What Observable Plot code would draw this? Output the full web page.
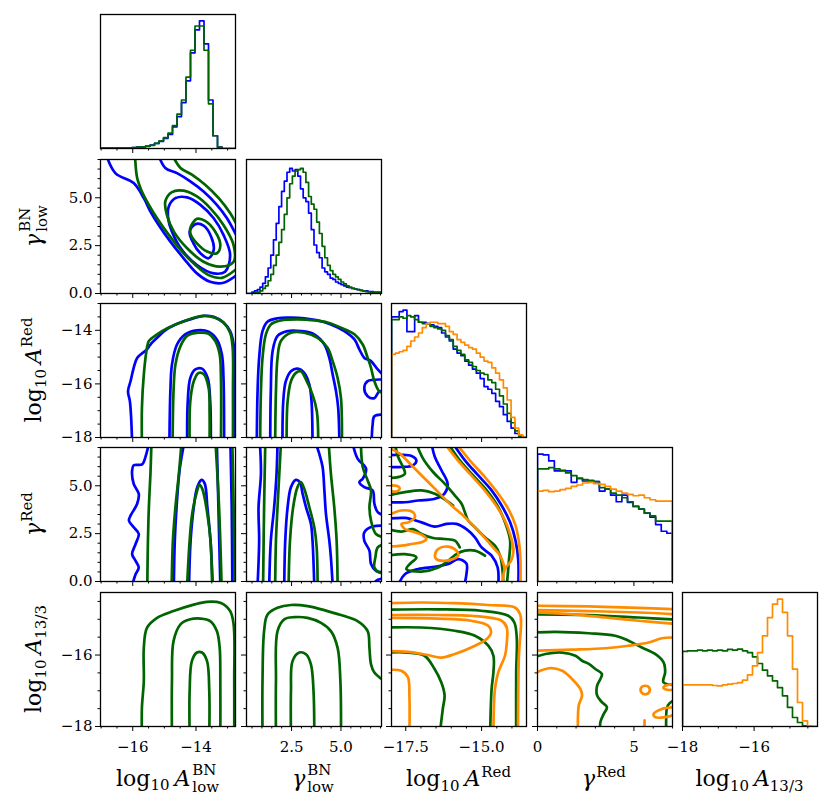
<!DOCTYPE html>
<html><head><meta charset="utf-8">
<script src="https://cdn.jsdelivr.net/npm/d3@7"></script>
<script src="https://cdn.jsdelivr.net/npm/@observablehq/plot@0.6"></script>
<style>
body{margin:0;background:#fff}
#fig{position:relative;width:831px;height:809px;background:#fff;font-family:"DejaVu Serif",serif;color:#000;overflow:hidden}
#fig svg{position:absolute}
#fig svg text{font-family:"DejaVu Serif",serif !important}
.lab{position:absolute;font-size:22px;line-height:1;white-space:nowrap;transform:translate(-50%,-50%)}
.lab.rot{transform:translate(-50%,-50%) rotate(-90deg)}
.lab sub,.lab sup{font-size:0.68em;line-height:0;position:relative;vertical-align:baseline}
.lab sub{top:0.32em}
.lab sup{top:-0.62em;margin-left:1px}
.lab .sp{display:inline-block;width:5px}
.ss{display:inline-block;vertical-align:-0.42em;font-size:0.68em;line-height:1.12;margin-left:2px}
.ss span{display:block}
</style></head>
<body><div id="fig"></div>
<script>
// ---------- colours ----------
const COL = {b: "#0000ff", g: "#006400", o: "#ff8c00"};

// ---------- axes ----------
const xDomains = [[-17.02, -12.75], [0.22, 7.05], [-17.97, -13.52], [0, 7], [-18, -14.23]];
const yDomains = [null, [0, 7], [-18, -13], [0, 7], [-18, -14.25]];
const xMajor = [[-16, -14], [2.5, 5], [-17.5, -15], [0, 5], [-18, -16]];
const xMajorLabels = [["−16", "−14"], ["2.5", "5.0"], ["−17.5", "−15.0"], ["0", "5"], ["−18", "−16"]];
const xMinor = [[-17, -16.5, -15.5, -15, -14.5, -13.5, -13], [0.5, 1, 1.5, 2, 3, 3.5, 4, 4.5, 5.5, 6, 6.5, 7],
  [-17, -16.5, -16, -15.5, -14.5, -14], [1, 2, 3, 4, 6, 7], [-17.5, -17, -16.5, -15.5, -15, -14.5]];
const yMajor = [null, [0, 2.5, 5], [-18, -16, -14], [0, 2.5, 5], [-18, -16]];
const yMajorLabels = [null, ["0.0", "2.5", "5.0"], ["−18", "−16", "−14"], ["0.0", "2.5", "5.0"], ["−18", "−16"]];
const yMinor = [null, [0.5, 1, 1.5, 2, 3, 3.5, 4, 4.5, 5.5, 6, 6.5, 7], [-17.5, -17, -16.5, -15.5, -15, -14.5, -13.5, -13],
  [0.5, 1, 1.5, 2, 3, 3.5, 4, 4.5, 5.5, 6, 6.5, 7], [-17.5, -17, -16.5, -15.5, -15, -14.5]];

const axisLabels = [
  'log<sub>10</sub><span class="sp"></span><i>A</i><span class="ss"><span>BN</span><span>low</span></span>',
  '<i>γ</i><span class="ss"><span>BN</span><span>low</span></span>',
  'log<sub>10</sub><span class="sp"></span><i>A</i><sup>Red</sup>',
  '<i>γ</i><sup>Red</sup>',
  'log<sub>10</sub><span class="sp"></span><i>A</i><sub>13/3</sub>'
];

// ---------- 1D histograms (normalised heights per bin) ----------
const hist0_blue = [0.003,0.003,0.003,0.003,0.003,0.004,0.005,0.007,0.01,0.013,0.018,0.026,0.04,0.055,0.08,0.11,0.17,0.25,0.36,0.53,0.75,0.93,1.0,0.82,0.38,0.1,0.01,0,0,0];
const hist0_green = [0.003,0.003,0.003,0.003,0.003,0.003,0.005,0.007,0.01,0.012,0.017,0.025,0.04,0.06,0.085,0.12,0.18,0.27,0.38,0.56,0.77,0.96,0.96,0.77,0.35,0.1,0.01,0,0,0];

const hist1_blue = [0,0,0.01,0.02,0.03,0.05,0.08,0.13,0.2,0.3,0.42,0.55,0.68,0.8,0.88,0.95,0.98,0.96,0.97,0.92,0.82,0.75,0.72,0.63,0.5,0.38,0.32,0.28,0.2,0.17,0.15,0.12,0.11,0.09,0.08,0.07,0.06,0.05,0.045,0.04,0.035,0.03,0.025,0.02,0.02,0.015,0.015,0.01,0.01,0.01];
const hist1_green = [0,0,0,0.005,0.01,0.02,0.04,0.06,0.1,0.15,0.22,0.3,0.4,0.5,0.62,0.75,0.86,0.92,0.96,0.97,0.98,0.95,0.87,0.76,0.7,0.66,0.56,0.47,0.37,0.28,0.22,0.18,0.15,0.13,0.11,0.09,0.075,0.06,0.05,0.04,0.035,0.03,0.025,0.02,0.015,0.012,0.01,0.008,0.006,0.005];

const hist2_blue = [0.9,0.9,0.94,0.95,0.79,0.79,0.91,0.86,0.86,0.85,0.84,0.83,0.82,0.78,0.75,0.72,0.66,0.63,0.61,0.57,0.54,0.51,0.48,0.44,0.38,0.36,0.33,0.27,0.23,0.17,0.12,0.07,0.03,0.01,0];
const hist2_green = [0.88,0.88,0.9,0.89,0.91,0.9,0.88,0.86,0.85,0.85,0.83,0.82,0.81,0.8,0.76,0.73,0.68,0.65,0.62,0.58,0.56,0.53,0.5,0.48,0.47,0.43,0.41,0.36,0.31,0.25,0.18,0.11,0.05,0.01,0];
const hist2_orange = [0.62,0.63,0.64,0.65,0.68,0.72,0.75,0.78,0.82,0.85,0.86,0.86,0.85,0.85,0.83,0.79,0.77,0.73,0.71,0.69,0.67,0.66,0.63,0.6,0.57,0.56,0.52,0.48,0.43,0.37,0.28,0.15,0.07,0.02,0];

const hist3_blue = [0.95,0.945,0.9,0.825,0.83,0.825,0.74,0.77,0.75,0.75,0.745,0.675,0.69,0.645,0.595,0.645,0.59,0.56,0.54,0.51,0.48,0.425,0.375,0.36];
const hist3_green = [0.84,0.84,0.85,0.84,0.825,0.81,0.79,0.77,0.76,0.755,0.745,0.7,0.69,0.66,0.645,0.625,0.595,0.56,0.54,0.51,0.49,0.45,0.45,0.45];
const hist3_orange = [0.675,0.68,0.67,0.675,0.685,0.695,0.71,0.72,0.735,0.74,0.73,0.725,0.71,0.69,0.675,0.66,0.65,0.64,0.645,0.625,0.61,0.6,0.6,0.6];

const hist4_green = [0.56,0.565,0.565,0.57,0.565,0.57,0.565,0.57,0.565,0.575,0.57,0.577,0.565,0.552,0.52,0.47,0.42,0.378,0.34,0.29,0.229,0.142,0.067,0.03,0.005,0,0];
const hist4_orange = [0.311,0.311,0.311,0.311,0.311,0.311,0.306,0.303,0.311,0.316,0.321,0.328,0.346,0.386,0.453,0.552,0.677,0.813,0.913,0.95,0.851,0.677,0.428,0.179,0.042,0.005,0];

// ---------- 2D contour lines (data coordinates) ----------
const cont_1_0 = [
  {s:"b", p:[[-16.85,7.3],[-16.55,6.29],[-15.97,5.77],[-15.65,4.98],[-15.44,4.28],[-15.18,3.58],[-14.81,2.71],[-14.39,1.84],[-13.97,1.05],[-13.55,0.61],[-13.13,0.56],[-12.6,1.1]]},
  {s:"b", p:[[-15.2,7.3],[-14.97,6.56],[-14.6,6.29],[-14.18,5.86],[-13.76,5.33],[-13.34,4.63],[-13.02,3.93],[-12.65,2.8]]},
  {s:"b", closed:true, p:[[-14.86,4.55],[-14.65,4.98],[-14.28,5.02],[-13.86,4.63],[-13.44,3.93],[-13.13,3.06],[-12.92,2.01],[-13.08,1.14],[-13.44,1.05],[-13.97,1.49],[-14.44,2.27],[-14.76,3.23],[-14.88,3.93]]},
  {s:"b", closed:true, p:[[-14.2,3.23],[-14.02,3.62],[-13.76,3.55],[-13.52,2.97],[-13.44,2.27],[-13.6,1.84],[-13.86,2.1],[-14.08,2.62]]},
  {s:"g", p:[[-15.93,7.3],[-15.86,6.03],[-15.71,5.33],[-15.49,4.63],[-15.23,3.93],[-14.86,3.06],[-14.44,2.19],[-14.02,1.49],[-13.6,0.96],[-13.18,0.82],[-12.6,1.45]]},
  {s:"g", p:[[-14.77,7.3],[-14.49,6.56],[-14.13,6.21],[-13.71,5.68],[-13.28,4.98],[-12.92,4.2],[-12.65,3.4]]},
  {s:"g", closed:true, p:[[-14.97,4.81],[-14.76,5.3],[-14.39,5.37],[-13.97,5.07],[-13.55,4.46],[-13.13,3.58],[-12.81,2.53],[-12.81,1.66],[-13.23,1.4],[-13.76,1.66],[-14.28,2.36],[-14.7,3.23],[-14.92,4.11]]},
  {s:"g", closed:true, p:[[-14.18,3.41],[-13.97,3.9],[-13.71,3.79],[-13.39,3.23],[-13.23,2.53],[-13.34,2.1],[-13.65,2.19],[-13.97,2.62],[-14.16,3.06]]}
];

const cont_2_0 = [
  {s:"b", p:[[-16.02,-18.2],[-16.05,-17.28],[-16.09,-16.65],[-16.15,-16.28],[-16.07,-15.9],[-15.97,-15.4],[-15.86,-15.03],[-15.55,-14.71],[-15.44,-14.53],[-15.23,-14.28],[-14.92,-13.96],[-14.49,-13.71],[-14.07,-13.55],[-13.76,-13.46],[-13.44,-13.5],[-13.13,-13.71],[-12.92,-14.03],[-12.81,-14.53],[-12.79,-16.28],[-12.78,-18.2]]},
  {s:"b", p:[[-14.84,-18.2],[-14.81,-16.28],[-14.76,-15.28],[-14.6,-14.53],[-14.34,-14.15],[-13.97,-14.0],[-13.6,-14.05],[-13.34,-14.34],[-13.18,-14.9],[-13.13,-15.78],[-13.11,-18.2]]},
  {s:"b", p:[[-14.28,-18.2],[-14.26,-16.65],[-14.18,-15.78],[-14.02,-15.46],[-13.81,-15.43],[-13.63,-15.78],[-13.55,-16.65],[-13.53,-18.2]]},
  {s:"g", p:[[-15.71,-18.2],[-15.71,-16.9],[-15.65,-15.65],[-15.55,-14.65],[-15.49,-14.4],[-15.23,-14.15],[-14.92,-13.93],[-14.49,-13.71],[-14.07,-13.53],[-13.76,-13.46],[-13.39,-13.53],[-13.13,-13.71],[-12.92,-14.09],[-12.84,-14.65],[-12.83,-16.28],[-12.83,-18.2]]},
  {s:"g", p:[[-14.74,-18.2],[-14.71,-16.28],[-14.65,-15.28],[-14.49,-14.59],[-14.28,-14.21],[-13.92,-14.09],[-13.6,-14.13],[-13.39,-14.4],[-13.25,-14.9],[-13.21,-15.78],[-13.21,-18.2]]},
  {s:"g", p:[[-14.2,-18.2],[-14.18,-16.65],[-14.07,-15.9],[-13.92,-15.59],[-13.76,-15.63],[-13.6,-16.15],[-13.57,-17.03],[-13.57,-18.2]]}
];

const cont_2_1 = [
  {s:"b", p:[[0.74,-18.2],[0.78,-16.28],[0.86,-15.03],[1.03,-14.03],[1.28,-13.68],[1.79,-13.55],[2.47,-13.53],[3.14,-13.55],[3.82,-13.63],[4.49,-13.78],[5.17,-14.03],[5.68,-14.34],[5.93,-14.71],[6.18,-15.03],[6.52,-15.15],[6.86,-15.46],[7.2,-15.71]]},
  {s:"b", p:[[7.2,-15.84],[6.35,-15.9],[6.18,-16.15],[6.35,-16.46],[6.69,-16.53],[6.94,-16.28],[7.2,-16.28]]},
  {s:"b", p:[[7.2,-17.15],[6.69,-17.21],[6.6,-17.53],[6.55,-18.2]]},
  {s:"b", p:[[1.42,-18.2],[1.45,-16.28],[1.54,-14.78],[1.79,-14.21],[2.3,-14.03],[2.97,-14.03],[3.65,-14.15],[4.16,-14.53],[4.41,-15.03],[4.58,-15.65],[4.75,-16.28],[4.86,-16.9],[4.92,-18.2]]},
  {s:"b", p:[[2.04,-18.2],[2.08,-16.65],[2.21,-15.9],[2.47,-15.53],[2.8,-15.43],[3.14,-15.59],[3.4,-16.03],[3.51,-16.65],[3.56,-18.2]]},
  {s:"g", p:[[0.91,-18.2],[0.95,-16.28],[1.03,-15.03],[1.2,-14.15],[1.45,-13.78],[1.96,-13.63],[2.8,-13.59],[3.65,-13.63],[4.32,-13.71],[5.0,-13.9],[5.68,-14.15],[6.1,-14.53],[6.35,-15.03],[6.52,-15.4],[6.69,-15.9],[6.94,-16.28],[7.2,-16.34]]},
  {s:"g", p:[[1.67,-18.2],[1.71,-16.28],[1.79,-15.03],[1.96,-14.4],[2.47,-14.09],[3.14,-14.09],[3.82,-14.28],[4.32,-14.65],[4.58,-15.15],[4.83,-15.78],[5.0,-16.53],[5.05,-18.2]]},
  {s:"g", p:[[2.25,-18.2],[2.3,-16.65],[2.47,-15.9],[2.72,-15.59],[2.97,-15.53],[3.23,-15.84],[3.56,-16.4],[3.78,-17.03],[3.85,-18.2]]}
];

const cont_3_0 = [
  {s:"b", p:[[-15.49,7.2],[-15.6,6.5],[-15.7,6.12],[-15.97,6.07],[-16.02,5.8],[-15.97,5.1],[-15.81,4.58],[-15.86,4.06],[-16.07,3.44],[-16.12,3.18],[-15.97,2.83],[-15.81,2.48],[-15.91,1.96],[-16.02,1.43],[-15.91,1.08],[-15.81,0.73],[-15.91,0.38],[-16.02,-0.2]]},
  {s:"b", p:[[-14.38,7.2],[-14.52,5.8],[-14.6,4.23],[-14.67,2.13],[-14.7,-0.2]]},
  {s:"b", p:[[-14.22,-0.2],[-14.17,2.13],[-14.07,3.88],[-13.96,4.93],[-13.82,5.31],[-13.72,5.1],[-13.64,3.88],[-13.54,2.13],[-13.47,-0.2]]},
  {s:"b", p:[[-13.34,7.2],[-13.29,3.88],[-13.23,-0.2]]},
  {s:"b", p:[[-12.91,7.2],[-12.87,3.88],[-12.85,-0.2]]},
  {s:"g", p:[[-15.41,7.2],[-15.44,5.63],[-15.49,3.88],[-15.52,2.13],[-15.54,-0.2]]},
  {s:"g", p:[[-14.46,7.2],[-14.54,5.63],[-14.65,3.88],[-14.73,2.13],[-14.77,-0.2]]},
  {s:"g", p:[[-14.28,-0.2],[-14.2,2.13],[-14.12,3.53],[-13.96,4.76],[-13.89,5.05],[-13.8,4.84],[-13.64,3.53],[-13.54,2.13],[-13.49,-0.2]]},
  {s:"g", p:[[-13.38,7.2],[-13.27,3.88],[-13.19,-0.2]]},
  {s:"g", p:[[-12.85,7.2],[-12.81,3.88],[-12.78,-0.2]]}
];

const cont_3_1 = [
  {s:"b", p:[[0.9,7.2],[0.95,5.63],[0.83,3.88],[0.86,2.13],[0.78,-0.2]]},
  {s:"b", p:[[1.79,7.2],[1.74,5.63],[1.62,3.88],[1.45,2.13],[1.37,-0.2]]},
  {s:"b", p:[[2.13,-0.2],[2.18,2.13],[2.3,3.88],[2.47,4.93],[2.72,5.31],[2.92,5.19],[3.06,4.58],[3.23,3.88],[3.48,3.01],[3.56,2.13],[3.65,-0.2]]},
  {s:"b", p:[[3.73,7.2],[3.9,6.68],[4.07,5.98],[4.16,4.76],[4.24,3.53],[4.41,2.13],[4.49,1.26],[4.58,-0.2]]},
  {s:"b", p:[[5.59,7.2],[5.84,6.42],[6.27,5.89],[6.1,5.37],[5.93,5.19],[6.18,4.93],[6.6,4.76],[6.69,4.06],[6.86,3.62],[7.2,3.44]]},
  {s:"b", p:[[7.2,2.92],[6.6,2.87],[6.18,2.57],[6.18,2.13],[6.44,1.61],[6.52,0.91],[6.77,0.56],[7.2,0.47]]},
  {s:"b", p:[[7.2,0.17],[6.77,0.03],[6.69,-0.2]]},
  {s:"g", p:[[1.17,7.2],[1.11,3.88],[1.06,-0.2]]},
  {s:"g", p:[[1.96,7.2],[1.88,5.63],[1.79,3.88],[1.71,2.13],[1.67,-0.2]]},
  {s:"g", p:[[2.35,-0.2],[2.42,2.13],[2.58,3.88],[2.8,4.93],[2.97,5.19],[3.14,4.84],[3.4,3.88],[3.65,2.83],[3.77,1.78],[3.82,-0.2]]},
  {s:"g", p:[[4.38,7.2],[4.49,5.63],[4.66,3.88],[4.78,2.13],[4.83,-0.2]]},
  {s:"g", p:[[6.01,7.2],[6.1,5.98],[6.35,5.28],[6.52,4.76],[6.44,3.88],[6.52,3.18],[6.77,2.48],[7.2,2.31]]},
  {s:"g", p:[[7.2,1.96],[6.86,1.78],[6.74,1.26],[6.69,0.73],[6.94,0.47],[7.2,0.47]]}
];

const cont_3_2 = [
  {s:"b", p:[[-15.94,7.2],[-15.55,6.33],[-15.11,5.54],[-14.67,4.76],[-14.34,3.97],[-14.06,3.09],[-13.88,2.13],[-13.79,1.08],[-13.79,-0.2]]},
  {s:"b", p:[[-16.65,7.2],[-16.54,6.5],[-16.32,5.8],[-16.12,5.1],[-16.23,4.58],[-16.54,4.32],[-17.09,4.23],[-17.53,4.14],[-18.1,4.14]]},
  {s:"b", p:[[-18.1,6.59],[-17.64,6.62],[-17.31,6.56],[-17.15,6.33],[-17.26,6.07],[-17.64,5.98],[-18.1,5.98]]},
  {s:"b", p:[[-18.1,3.27],[-17.53,3.32],[-16.98,3.09],[-16.54,2.87],[-16.16,3.01],[-15.83,3.01],[-15.5,2.74],[-15.22,2.31],[-15.0,1.78],[-14.67,1.35],[-14.47,0.73],[-14.45,-0.2]]},
  {s:"b", p:[[-17.75,-0.2],[-17.53,0.38],[-17.09,0.65],[-16.54,0.77],[-16.1,0.91],[-15.77,1.17],[-15.5,0.94],[-15.5,0.38],[-15.57,-0.2]]},
  {s:"g", p:[[-16.1,7.2],[-15.72,6.33],[-15.28,5.54],[-14.83,4.76],[-14.45,3.88],[-14.21,3.01],[-14.06,2.13],[-14.1,1.08],[-14.17,-0.2]]},
  {s:"g", p:[[-17.15,7.2],[-16.93,6.42],[-16.6,5.72],[-16.21,5.1],[-15.88,4.49],[-15.66,4.06],[-15.55,3.62],[-15.44,3.18],[-15.22,2.83],[-14.89,2.31],[-14.56,1.87],[-14.39,1.35],[-14.32,0.73],[-14.28,-0.2]]},
  {s:"g", p:[[-17.86,7.2],[-17.75,6.5],[-17.59,5.98],[-17.53,5.63],[-17.75,5.45],[-18.1,5.42]]},
  {s:"g", p:[[-18.1,4.49],[-17.53,4.67],[-16.98,4.76],[-16.54,4.58],[-16.16,4.23],[-15.94,3.97]]},
  {s:"g", p:[[-18.1,2.74],[-17.64,2.61],[-17.26,2.74],[-16.98,2.48],[-16.6,2.27],[-16.21,2.22],[-15.88,2.13],[-15.72,1.78]]},
  {s:"g", p:[[-18.1,1.35],[-17.53,1.43],[-17.15,1.26],[-17.37,0.91],[-17.48,0.65],[-16.98,0.52],[-16.43,0.73],[-16.1,1.08],[-15.83,1.43],[-15.55,1.61],[-15.22,1.61],[-14.89,1.35]]},
  {s:"o", p:[[-15.83,7.2],[-15.39,6.33],[-14.89,5.45],[-14.45,4.58],[-14.12,3.79],[-13.88,2.92],[-13.76,1.96],[-13.72,1.08],[-13.72,-0.2]]},
  {s:"o", p:[[-16.21,7.2],[-15.83,6.42],[-15.39,5.63],[-14.94,4.84],[-14.56,4.06],[-14.23,3.18],[-14.03,2.31],[-13.95,1.61],[-14.03,1.08],[-14.23,0.65],[-14.32,-0.2]]},
  {s:"o", p:[[-18.0,6.94],[-17.7,6.68],[-17.31,6.07],[-16.87,5.37],[-16.43,4.67],[-15.99,3.97],[-15.55,3.36],[-15.11,2.66],[-14.67,1.87],[-14.39,1.35],[-14.23,0.65]]},
  {s:"o", p:[[-18.1,5.02],[-17.75,4.97],[-17.7,4.84],[-17.78,4.72],[-18.1,4.72]]},
  {s:"o", p:[[-18.1,3.44],[-17.64,3.71],[-17.26,3.62],[-17.2,3.36],[-17.42,3.09],[-17.64,3.01],[-17.53,2.74],[-17.2,2.57],[-16.93,2.4],[-16.82,2.22],[-16.98,2.05],[-17.31,1.96],[-17.64,1.87],[-18.1,1.82]]},
  {s:"o", closed:true, p:[[-16.54,1.35],[-16.43,1.7],[-16.1,1.82],[-15.83,1.61],[-15.77,1.35],[-15.94,1.17],[-16.27,1.08],[-16.49,1.17]]}
];

const cont_4_0 = [
  {s:"g", p:[[-15.71,-18.3],[-15.71,-17.47],[-15.65,-16.73],[-15.65,-15.8],[-15.55,-15.24],[-15.23,-14.96],[-14.71,-14.77],[-14.07,-14.59],[-13.65,-14.51],[-13.23,-14.54],[-12.92,-14.77],[-12.81,-15.14],[-12.79,-16.73],[-12.79,-18.3]]},
  {s:"g", p:[[-14.76,-18.3],[-14.76,-16.73],[-14.71,-15.61],[-14.49,-15.14],[-14.18,-15.0],[-13.86,-14.98],[-13.55,-15.05],[-13.34,-15.33],[-13.25,-15.8],[-13.23,-16.73],[-13.23,-18.3]]},
  {s:"g", p:[[-14.2,-18.3],[-14.2,-17.0],[-14.13,-16.17],[-13.97,-15.93],[-13.81,-15.93],[-13.65,-16.17],[-13.58,-17.0],[-13.58,-18.3]]}
];

const cont_4_1 = [
  {s:"g", p:[[1.03,-18.3],[1.03,-16.73],[1.11,-15.33],[1.28,-14.87],[1.79,-14.68],[2.47,-14.6],[3.31,-14.63],[4.32,-14.77],[5.17,-14.91],[5.84,-15.05],[6.35,-15.33],[6.44,-15.8],[6.52,-16.26],[6.69,-16.49],[7.2,-16.73]]},
  {s:"g", p:[[1.71,-18.3],[1.71,-16.73],[1.79,-15.33],[2.13,-15.0],[2.64,-14.94],[3.31,-14.96],[3.99,-15.1],[4.49,-15.33],[4.83,-15.8],[4.97,-16.73],[5.0,-18.3]]},
  {s:"g", p:[[2.47,-18.3],[2.47,-17.0],[2.55,-16.17],[2.89,-15.93],[3.23,-15.98],[3.48,-16.26],[3.61,-17.0],[3.65,-18.3]]}
];

const cont_4_2 = [
  {s:"g", p:[[-18.1,-14.73],[-16.44,-14.72],[-15.01,-14.76],[-14.12,-14.9],[-13.92,-15.09],[-13.84,-15.55],[-13.86,-16.48],[-13.86,-18.3]]},
  {s:"g", p:[[-18.1,-15.23],[-16.99,-15.23],[-15.88,-15.32],[-15.22,-15.46],[-14.78,-15.74],[-14.61,-16.02],[-14.61,-16.48],[-14.67,-16.95],[-14.72,-18.3]]},
  {s:"g", p:[[-18.1,-15.93],[-17.43,-15.93],[-16.88,-16.02],[-16.55,-16.39],[-16.33,-16.76],[-16.22,-17.13],[-16.28,-17.51],[-16.39,-18.3]]},
  {s:"o", p:[[-18.1,-14.55],[-16.99,-14.53],[-15.88,-14.55],[-14.79,-14.6],[-13.9,-14.67],[-13.73,-14.86],[-13.7,-15.09],[-13.77,-16.02],[-13.8,-18.3]]},
  {s:"o", p:[[-18.1,-14.88],[-16.44,-14.88],[-15.34,-14.9],[-14.34,-15.04],[-14.17,-15.23],[-14.17,-15.65],[-14.23,-16.02],[-14.45,-16.48],[-14.56,-16.95],[-14.61,-18.3]]},
  {s:"o", p:[[-18.1,-14.96],[-16.44,-14.98],[-15.34,-15.04],[-14.78,-15.18],[-14.69,-15.37],[-14.83,-15.55],[-15.27,-15.76],[-15.88,-15.97],[-16.33,-16.07],[-16.77,-16.0],[-17.43,-15.91],[-18.1,-15.89]]},
  {s:"o", p:[[-18.1,-16.42],[-17.65,-16.44],[-17.43,-16.62],[-17.38,-17.13],[-17.38,-18.3]]}
];

const cont_4_3 = [
  {s:"g", p:[[-0.2,-14.86],[2.66,-14.88],[5.24,-14.95],[7.2,-15.01]]},
  {s:"g", p:[[-0.2,-15.37],[0.93,-15.35],[2.66,-15.39],[4.03,-15.46],[4.72,-15.6],[5.41,-15.79],[6.1,-15.97],[6.53,-16.2],[6.62,-16.48],[6.53,-16.76],[7.2,-16.84]]},
  {s:"g", p:[[7.2,-17.23],[6.76,-17.41],[6.67,-17.88],[6.71,-18.3]]},
  {s:"g", p:[[-0.2,-16.07],[0.41,-15.97],[1.28,-15.93],[1.97,-16.02],[2.31,-16.16],[2.66,-16.25],[3.0,-16.39],[3.34,-16.53],[3.26,-16.67],[3.09,-16.86],[3.09,-17.13],[3.34,-17.32],[3.6,-17.46],[3.43,-17.65],[3.26,-17.88],[3.26,-18.3]]},
  {s:"o", p:[[-0.2,-14.62],[2.66,-14.64],[5.24,-14.68],[7.2,-14.72]]},
  {s:"o", p:[[-0.2,-14.74],[2.66,-14.77],[5.24,-14.81],[7.2,-14.86]]},
  {s:"o", p:[[-0.2,-14.8],[1.79,-14.86],[3.52,-14.95],[5.24,-15.04],[7.2,-15.13]]},
  {s:"o", p:[[-0.2,-15.88],[1.79,-15.85],[3.52,-15.81],[4.72,-15.74],[5.76,-15.65],[6.45,-15.53],[7.2,-15.51]]},
  {s:"o", p:[[-0.2,-16.53],[0.59,-16.37],[1.28,-16.44],[1.79,-16.67],[2.22,-16.95],[2.31,-17.13],[2.14,-17.41],[2.1,-18.3]]},
  {s:"o", closed:true, p:[[5.59,-16.86],[5.79,-16.91],[5.79,-17.04],[5.59,-17.1],[5.38,-17.04],[5.38,-16.91]]},
  {s:"o", p:[[7.2,-16.81],[6.62,-16.86],[6.53,-16.92],[6.71,-16.97],[7.2,-16.97]]},
  {s:"o", p:[[7.2,-17.46],[6.45,-17.51],[6.02,-17.65],[6.1,-17.74],[6.62,-17.74],[7.2,-17.65]]},
  {s:"o", p:[[5.55,-17.83],[5.55,-18.3]]}
];

// ---------- layout ----------
const colLeft = [100, 245.5, 391, 536.5, 682];
const rowTop = [14, 158.5, 302.7, 447, 591.7];
const PW = 135, PH = 134;
const ML = 62, MR = 4, MT = 4, MB = 36;
const FONT = "DejaVu Serif";

const fig = document.getElementById("fig");

function stepRows(dom, h) {
  const n = h.length, w = (dom[1] - dom[0]) / n;
  const rows = [{x: dom[0], y: 0}];
  h.forEach((v, i) => { rows.push({x: dom[0] + i * w, y: v}, {x: dom[0] + (i + 1) * w, y: v}); });
  rows.push({x: dom[1], y: 0});
  return rows;
}
function histMarks(dom, list) {
  return list.map(([h, s]) => Plot.line(stepRows(dom, h), {x: "x", y: "y", stroke: COL[s], strokeWidth: 1.7, clip: true}));
}
function contourMarks(list) {
  const marks = [];
  for (const s of ["b", "g", "o"]) {
    for (const closed of [false, true]) {
      const rows = [];
      list.forEach((L, k) => { if (L.s === s && !!L.closed === closed) L.p.forEach(([x, y]) => rows.push({x, y, id: k})); });
      if (rows.length) marks.push(Plot.line(rows, {x: "x", y: "y", z: "id", stroke: COL[s], strokeWidth: 2.7,
        curve: closed ? "catmull-rom-closed" : "catmull-rom", clip: true}));
    }
  }
  return marks;
}
function lookup(ticks, labels) { const m = new Map(ticks.map((t, i) => [t, labels[i]])); return d => m.get(d) ?? ""; }

function panel(r, c, marks, yDom) {
  const diag = r === c;
  const axes = [
    Plot.axisX({ticks: xMajor[c], tickSize: 5, tickPadding: 10, fontSize: 15, fontFamily: FONT, label: null,
      tickFormat: r === 4 ? lookup(xMajor[c], xMajorLabels[c]) : () => ""}),
    Plot.axisX({ticks: xMinor[c], tickSize: 2.5, label: null, tickFormat: () => ""})
  ];
  if (!diag) {
    axes.push(
      Plot.axisY({ticks: yMajor[r], tickSize: 5, tickPadding: 3, fontSize: 15, fontFamily: FONT, label: null,
        tickFormat: c === 0 ? lookup(yMajor[r], yMajorLabels[r]) : () => ""}),
      Plot.axisY({ticks: yMinor[r], tickSize: 2.5, label: null, tickFormat: () => ""})
    );
  }
  const svg = Plot.plot({
    width: PW + ML + MR, height: PH + MT + MB,
    marginLeft: ML, marginRight: MR, marginTop: MT, marginBottom: MB,
    x: {domain: xDomains[c], label: null},
    y: diag ? {domain: yDom, axis: null, label: null} : {domain: yDom, label: null},
    style: {background: "transparent", overflow: "visible", fontFamily: FONT, fontSize: "15px", color: "black"},
    marks: [...marks, Plot.frame({stroke: "black", strokeWidth: 1.3}), ...axes]
  });
  svg.style.left = (colLeft[c] - ML) + "px";
  svg.style.top = (rowTop[r] - MT) + "px";
  fig.appendChild(svg);
}

// diagonal histograms
panel(0, 0, histMarks(xDomains[0], [[hist0_blue, "b"], [hist0_green, "g"]]), [0, 1.05]);
panel(1, 1, histMarks(xDomains[1], [[hist1_blue, "b"], [hist1_green, "g"]]), [0, 1.05]);
panel(2, 2, histMarks(xDomains[2], [[hist2_blue, "b"], [hist2_green, "g"], [hist2_orange, "o"]]), [0, 1]);
panel(3, 3, histMarks(xDomains[3], [[hist3_blue, "b"], [hist3_green, "g"], [hist3_orange, "o"]]), [0, 1]);
panel(4, 4, histMarks(xDomains[4], [[hist4_green, "g"], [hist4_orange, "o"]]), [0, 1]);

// contour panels
panel(1, 0, contourMarks(cont_1_0), yDomains[1]);
panel(2, 0, contourMarks(cont_2_0), yDomains[2]);
panel(2, 1, contourMarks(cont_2_1), yDomains[2]);
panel(3, 0, contourMarks(cont_3_0), yDomains[3]);
panel(3, 1, contourMarks(cont_3_1), yDomains[3]);
panel(3, 2, contourMarks(cont_3_2), yDomains[3]);
panel(4, 0, contourMarks(cont_4_0), yDomains[4]);
panel(4, 1, contourMarks(cont_4_1), yDomains[4]);
panel(4, 2, contourMarks(cont_4_2), yDomains[4]);
panel(4, 3, contourMarks(cont_4_3), yDomains[4]);

// axis labels (HTML text with sub/superscripts)
axisLabels.forEach((html, i) => {
  const d = document.createElement("div");
  d.className = "lab";
  d.innerHTML = html;
  d.style.left = (colLeft[i] + PW / 2) + "px";
  d.style.top = "779px";
  fig.appendChild(d);
});
axisLabels.slice(1).forEach((html, k) => {
  const r = k + 1;
  const d = document.createElement("div");
  d.className = "lab rot";
  d.innerHTML = html;
  d.style.left = "34px";
  d.style.top = (rowTop[r] + PH / 2) + "px";
  fig.appendChild(d);
});
</script>
</body></html>
